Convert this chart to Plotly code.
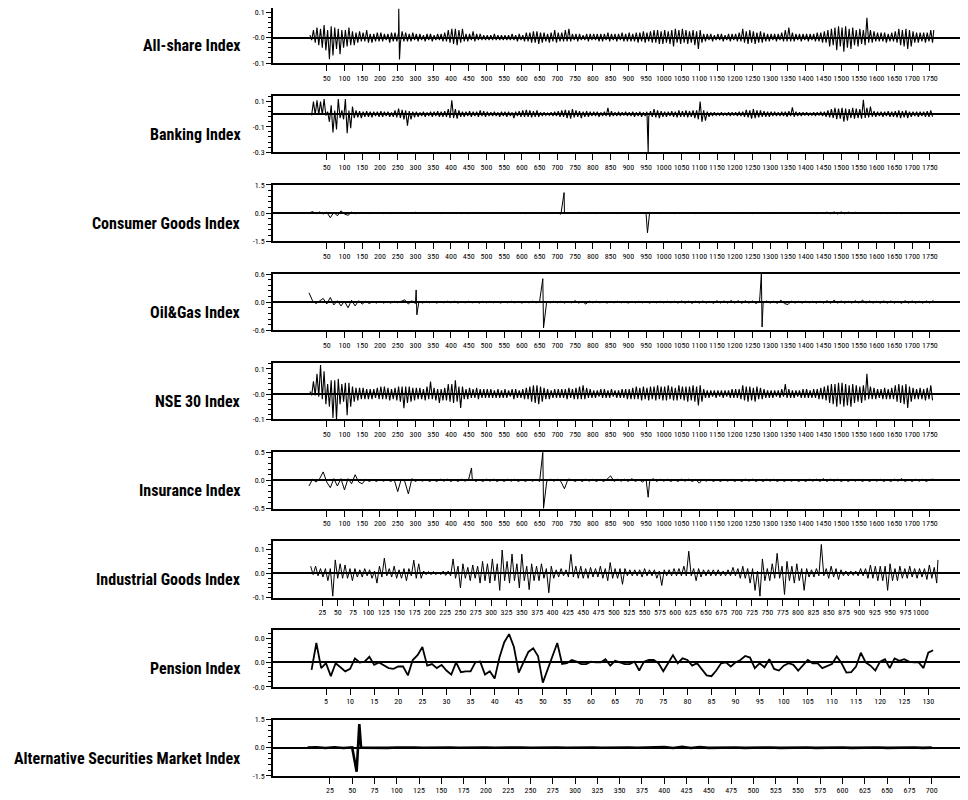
import plotly.graph_objects as go

# ---------------- data ----------------
# Dense return series: for every window of WIN_LONG observations the highest and
# lowest value read off the picture (the band of the series), plus isolated spikes.
WIN_LONG = 10

ALLSHARE_HIGH = [
    0.01, 0.03, 0.04, 0.035, 0.05, 0.03, 0.045, 0.04, 0.035, 0.03,
    0.03, 0.04, 0.025, 0.02, 0.025, 0.02, 0.03, 0.015, 0.015, 0.02,
    0.02, 0.015, 0.015, 0.02, 0.02, 0.02, 0.025, 0.02, 0.015, 0.02,
    0.015, 0.015, 0.01, 0.015, 0.015, 0.01, 0.015, 0.015, 0.02, 0.03,
    0.035, 0.035, 0.03, 0.035, 0.015, 0.015, 0.025, 0.015, 0.015, 0.01,
    0.01, 0.01, 0.015, 0.01, 0.01, 0.01, 0.01, 0.015, 0.01, 0.015,
    0.01, 0.02, 0.02, 0.025, 0.025, 0.02, 0.02, 0.015, 0.02, 0.03,
    0.02, 0.02, 0.03, 0.035, 0.015, 0.015, 0.015, 0.01, 0.015, 0.015,
    0.015, 0.015, 0.015, 0.015, 0.02, 0.015, 0.015, 0.015, 0.02, 0.015,
    0.02, 0.015, 0.02, 0.02, 0.025, 0.02, 0.025, 0.03, 0.03, 0.025,
    0.03, 0.025, 0.03, 0.035, 0.03, 0.035, 0.03, 0.025, 0.03, 0.025,
    0.03, 0.015, 0.015, 0.015, 0.01, 0.015, 0.015, 0.01, 0.015, 0.015,
    0.015, 0.02, 0.035, 0.025, 0.03, 0.025, 0.02, 0.025, 0.02, 0.015,
    0.015, 0.015, 0.015, 0.02, 0.03, 0.04, 0.02, 0.015, 0.015, 0.015,
    0.015, 0.015, 0.015, 0.02, 0.02, 0.025, 0.03, 0.035, 0.04, 0.045,
    0.04, 0.045, 0.035, 0.04, 0.03, 0.035, 0.03, 0.078, 0.03, 0.025,
    0.02, 0.02, 0.02, 0.015, 0.02, 0.025, 0.035, 0.03, 0.035, 0.03,
    0.025, 0.02, 0.02, 0.02, 0.02, 0.03,
]
ALLSHARE_LOW = [
    -0.01, -0.02, -0.03, -0.04, -0.05, -0.085, -0.07, -0.045, -0.065, -0.04,
    -0.035, -0.03, -0.03, -0.02, -0.015, -0.015, -0.02, -0.02, -0.015, -0.015,
    -0.015, -0.01, -0.02, -0.015, -0.015, -0.02, -0.015, -0.015, -0.015, -0.01,
    -0.015, -0.01, -0.015, -0.01, -0.015, -0.01, -0.01, -0.015, -0.015, -0.02,
    -0.025, -0.03, -0.02, -0.015, -0.015, -0.01, -0.015, -0.01, -0.01, -0.01,
    -0.01, -0.01, -0.01, -0.01, -0.01, -0.01, -0.01, -0.01, -0.015, -0.01,
    -0.015, -0.015, -0.02, -0.02, -0.025, -0.02, -0.015, -0.02, -0.015, -0.02,
    -0.015, -0.015, -0.015, -0.015, -0.01, -0.015, -0.01, -0.01, -0.015, -0.01,
    -0.01, -0.015, -0.015, -0.01, -0.015, -0.01, -0.015, -0.01, -0.015, -0.015,
    -0.015, -0.015, -0.02, -0.015, -0.02, -0.015, -0.02, -0.02, -0.025, -0.025,
    -0.02, -0.025, -0.035, -0.02, -0.025, -0.02, -0.025, -0.02, -0.03, -0.045,
    -0.02, -0.015, -0.01, -0.015, -0.01, -0.01, -0.015, -0.01, -0.015, -0.01,
    -0.015, -0.015, -0.02, -0.025, -0.02, -0.025, -0.02, -0.02, -0.015, -0.015,
    -0.01, -0.015, -0.01, -0.015, -0.015, -0.015, -0.015, -0.01, -0.015, -0.01,
    -0.015, -0.01, -0.015, -0.015, -0.02, -0.02, -0.035, -0.03, -0.05, -0.035,
    -0.055, -0.04, -0.045, -0.03, -0.035, -0.025, -0.03, -0.02, -0.02, -0.015,
    -0.015, -0.015, -0.02, -0.015, -0.015, -0.02, -0.03, -0.035, -0.045, -0.035,
    -0.02, -0.02, -0.015, -0.02, -0.015, -0.02,
]
ALLSHARE_PEAK_X = [253, 255, 1761]
ALLSHARE_PEAK_Y = [0.114, -0.086, 0.03]

BANKING_HIGH = [
    0.005, 0.10, 0.11, 0.10, 0.12, 0.02, 0.07, 0.03, 0.12, 0.03,
    0.12, 0.03, 0.06, 0.03, 0.025, 0.02, 0.025, 0.02, 0.02, 0.02,
    0.025, 0.02, 0.02, 0.015, 0.03, 0.045, 0.035, 0.03, 0.025, 0.02,
    0.02, 0.015, 0.02, 0.015, 0.02, 0.02, 0.025, 0.02, 0.025, 0.04,
    0.11, 0.04, 0.03, 0.02, 0.02, 0.025, 0.02, 0.02, 0.03, 0.025,
    0.02, 0.015, 0.02, 0.015, 0.02, 0.02, 0.02, 0.015, 0.02, 0.025,
    0.03, 0.035, 0.03, 0.025, 0.03, 0.015, 0.015, 0.01, 0.015, 0.02,
    0.025, 0.03, 0.035, 0.03, 0.04, 0.03, 0.025, 0.02, 0.025, 0.02,
    0.02, 0.02, 0.015, 0.02, 0.05, 0.025, 0.015, 0.02, 0.015, 0.02,
    0.015, 0.02, 0.015, 0.02, 0.015, 0.02, 0.025, 0.04, 0.03, 0.025,
    0.02, 0.02, 0.025, 0.02, 0.03, 0.025, 0.03, 0.025, 0.03, 0.03,
    0.1, 0.03, 0.02, 0.015, 0.015, 0.01, 0.015, 0.01, 0.015, 0.015,
    0.015, 0.02, 0.02, 0.035, 0.03, 0.04, 0.03, 0.03, 0.025, 0.02,
    0.02, 0.02, 0.015, 0.02, 0.02, 0.025, 0.055, 0.02, 0.015, 0.015,
    0.015, 0.01, 0.015, 0.015, 0.02, 0.02, 0.03, 0.04, 0.05, 0.045,
    0.05, 0.045, 0.04, 0.05, 0.045, 0.04, 0.115, 0.05, 0.06, 0.025,
    0.02, 0.02, 0.02, 0.025, 0.02, 0.025, 0.03, 0.025, 0.03, 0.02,
    0.02, 0.02, 0.02, 0.02, 0.025, 0.03,
]
BANKING_LOW = [
    -0.005, -0.005, -0.005, -0.005, -0.01, -0.06, -0.145, -0.12, -0.03, -0.04,
    -0.15, -0.11, -0.03, -0.025, -0.03, -0.02, -0.02, -0.025, -0.015, -0.02,
    -0.02, -0.015, -0.02, -0.02, -0.025, -0.03, -0.04, -0.09, -0.04, -0.025,
    -0.02, -0.015, -0.02, -0.015, -0.02, -0.015, -0.02, -0.02, -0.02, -0.03,
    -0.03, -0.035, -0.02, -0.02, -0.015, -0.02, -0.015, -0.02, -0.015, -0.02,
    -0.015, -0.015, -0.015, -0.02, -0.015, -0.02, -0.015, -0.03, -0.015, -0.02,
    -0.02, -0.02, -0.025, -0.02, -0.02, -0.015, -0.01, -0.01, -0.015, -0.015,
    -0.02, -0.02, -0.03, -0.035, -0.025, -0.02, -0.03, -0.02, -0.02, -0.015,
    -0.015, -0.02, -0.015, -0.015, -0.02, -0.015, -0.015, -0.015, -0.01, -0.015,
    -0.015, -0.02, -0.015, -0.02, -0.015, -0.02, -0.02, -0.025, -0.03, -0.02,
    -0.02, -0.015, -0.02, -0.025, -0.02, -0.02, -0.025, -0.02, -0.03, -0.04,
    -0.06, -0.05, -0.02, -0.015, -0.01, -0.01, -0.01, -0.01, -0.015, -0.01,
    -0.015, -0.015, -0.02, -0.025, -0.035, -0.03, -0.025, -0.02, -0.02, -0.02,
    -0.015, -0.015, -0.015, -0.015, -0.02, -0.015, -0.02, -0.015, -0.015, -0.01,
    -0.01, -0.01, -0.015, -0.01, -0.015, -0.02, -0.025, -0.03, -0.04, -0.035,
    -0.06, -0.05, -0.03, -0.035, -0.03, -0.035, -0.03, -0.025, -0.02, -0.02,
    -0.015, -0.02, -0.015, -0.02, -0.02, -0.025, -0.03, -0.025, -0.03, -0.02,
    -0.015, -0.02, -0.015, -0.02, -0.02, -0.02,
]
BANKING_PEAK_X = [956]
BANKING_PEAK_Y = [-0.3]

NSE30_HIGH = [
    0.01, 0.05, 0.08, 0.115, 0.09, 0.04, 0.055, 0.055, 0.06, 0.04,
    0.045, 0.045, 0.03, 0.025, 0.025, 0.025, 0.02, 0.02, 0.02, 0.025,
    0.03, 0.03, 0.025, 0.02, 0.025, 0.03, 0.03, 0.03, 0.03, 0.025,
    0.025, 0.025, 0.02, 0.03, 0.05, 0.025, 0.02, 0.02, 0.025, 0.04,
    0.04, 0.055, 0.03, 0.03, 0.02, 0.025, 0.02, 0.025, 0.02, 0.02,
    0.02, 0.02, 0.015, 0.02, 0.015, 0.02, 0.015, 0.02, 0.02, 0.015,
    0.02, 0.025, 0.03, 0.035, 0.035, 0.03, 0.025, 0.02, 0.015, 0.02,
    0.02, 0.02, 0.02, 0.025, 0.02, 0.025, 0.03, 0.035, 0.025, 0.02,
    0.015, 0.015, 0.02, 0.02, 0.015, 0.02, 0.015, 0.015, 0.02, 0.02,
    0.02, 0.025, 0.03, 0.025, 0.03, 0.025, 0.03, 0.03, 0.035, 0.03,
    0.03, 0.035, 0.03, 0.025, 0.035, 0.03, 0.03, 0.03, 0.035, 0.03,
    0.035, 0.02, 0.015, 0.015, 0.015, 0.015, 0.015, 0.015, 0.015, 0.02,
    0.02, 0.02, 0.035, 0.03, 0.03, 0.025, 0.03, 0.025, 0.02, 0.015,
    0.015, 0.015, 0.015, 0.02, 0.04, 0.02, 0.015, 0.015, 0.015, 0.02,
    0.02, 0.015, 0.02, 0.02, 0.025, 0.03, 0.035, 0.04, 0.04, 0.045,
    0.045, 0.04, 0.035, 0.04, 0.035, 0.03, 0.035, 0.08, 0.03, 0.025,
    0.02, 0.02, 0.025, 0.02, 0.025, 0.035, 0.04, 0.035, 0.04, 0.03,
    0.025, 0.02, 0.025, 0.02, 0.025, 0.035,
]
NSE30_LOW = [
    -0.005, -0.005, -0.01, -0.02, -0.04, -0.05, -0.094, -0.1, -0.04, -0.03,
    -0.083, -0.05, -0.03, -0.025, -0.02, -0.02, -0.02, -0.02, -0.015, -0.02,
    -0.02, -0.02, -0.025, -0.02, -0.025, -0.03, -0.056, -0.035, -0.03, -0.025,
    -0.02, -0.02, -0.025, -0.02, -0.02, -0.025, -0.035, -0.025, -0.025, -0.03,
    -0.035, -0.03, -0.055, -0.02, -0.02, -0.015, -0.015, -0.02, -0.015, -0.015,
    -0.015, -0.015, -0.015, -0.015, -0.015, -0.015, -0.01, -0.02, -0.015, -0.015,
    -0.02, -0.02, -0.03, -0.035, -0.04, -0.03, -0.02, -0.02, -0.015, -0.015,
    -0.015, -0.015, -0.02, -0.015, -0.02, -0.02, -0.02, -0.02, -0.015, -0.015,
    -0.015, -0.01, -0.015, -0.015, -0.015, -0.01, -0.015, -0.015, -0.015, -0.02,
    -0.02, -0.02, -0.02, -0.025, -0.02, -0.025, -0.02, -0.025, -0.02, -0.025,
    -0.025, -0.02, -0.025, -0.025, -0.02, -0.025, -0.03, -0.025, -0.03, -0.045,
    -0.03, -0.015, -0.015, -0.01, -0.015, -0.01, -0.015, -0.01, -0.015, -0.015,
    -0.015, -0.02, -0.025, -0.03, -0.025, -0.03, -0.02, -0.02, -0.015, -0.015,
    -0.015, -0.01, -0.015, -0.01, -0.015, -0.015, -0.015, -0.01, -0.015, -0.015,
    -0.015, -0.015, -0.015, -0.02, -0.02, -0.025, -0.035, -0.04, -0.05, -0.04,
    -0.05, -0.045, -0.05, -0.035, -0.03, -0.035, -0.025, -0.02, -0.02, -0.02,
    -0.015, -0.02, -0.02, -0.02, -0.02, -0.03, -0.035, -0.04, -0.055, -0.03,
    -0.02, -0.02, -0.02, -0.025, -0.02, -0.025,
]
NSE30_PEAK_X = []
NSE30_PEAK_Y = []

# Quieter long series: one reading every STEP_LONG observations, plus spikes.
STEP_LONG = 10

CONSUMER = [
    0.0, 0.08, -0.04, 0.06, -0.05, 0.05, -0.25, 0.04, -0.15, 0.12,
    -0.05, -0.12, 0.05, -0.04, 0.03, -0.03, 0.03, -0.03, 0.03, -0.02,
    0.03, -0.03, 0.02, -0.03, 0.03, -0.02, 0.03, -0.03, 0.02, -0.03,
    0.04, -0.03, 0.03, -0.02, 0.03, -0.03, 0.02, -0.03, 0.03, -0.02,
    0.03, -0.02, 0.03, -0.03, 0.02, -0.03, 0.03, -0.02, 0.03, -0.03,
    0.02, -0.03, 0.03, -0.02, 0.02, -0.03, 0.03, -0.02, 0.02, -0.02,
    0.03, -0.03, 0.02, -0.02, 0.03, -0.02, 0.02, -0.03, 0.03, -0.02,
    0.02, -0.06, 0.03, -0.02, 0.02, -0.03, 0.04, -0.02, 0.03, -0.03,
    0.02, -0.03, 0.03, -0.02, 0.03, -0.02, 0.02, -0.03, 0.03, -0.02,
    0.02, -0.03, 0.03, -0.02, 0.02, -0.03, 0.02, -0.02, 0.03, -0.03,
    0.02, -0.02, 0.03, -0.03, 0.02, -0.02, 0.03, -0.02, 0.02, -0.03,
    0.03, -0.02, 0.02, -0.03, 0.03, -0.02, 0.02, -0.03, 0.02, -0.02,
    0.03, -0.03, 0.02, -0.02, 0.03, -0.03, 0.02, -0.02, 0.03, -0.02,
    0.02, -0.03, 0.03, -0.02, 0.02, -0.02, 0.03, -0.03, 0.02, -0.02,
    0.03, -0.02, 0.02, -0.03, 0.03, -0.02, 0.05, -0.04, 0.06, -0.05,
    0.06, -0.04, 0.05, -0.03, 0.04, -0.03, 0.03, -0.02, 0.03, -0.02,
    0.03, -0.03, 0.02, -0.03, 0.03, -0.02, 0.03, -0.03, 0.02, -0.02,
    0.03, -0.02, 0.02, -0.03, 0.03, -0.02, 0.03,
]
CONSUMER_PEAK_X = [719, 954]
CONSUMER_PEAK_Y = [1.09, -1.05]

OILGAS = [
    0.2, 0.03, -0.03, 0.02, 0.08, -0.04, 0.1, -0.06, 0.03, -0.08,
    0.02, -0.12, 0.04, -0.08, 0.03, -0.04, 0.02, -0.03, 0.02, -0.02,
    0.02, -0.02, 0.015, -0.02, 0.02, -0.015, 0.02, 0.05, -0.04, 0.03,
    -0.03, 0.02, -0.02, 0.02, -0.015, 0.015, -0.02, 0.015, -0.015, 0.02,
    -0.015, 0.02, -0.02, 0.015, -0.015, 0.02, -0.015, 0.015, -0.02, 0.02,
    -0.015, 0.02, -0.015, 0.015, -0.02, 0.015, -0.015, 0.02, -0.015, 0.015,
    -0.02, 0.015, -0.015, 0.02, -0.015, 0.02, -0.02, 0.015, -0.015, 0.02,
    -0.015, 0.02, -0.02, 0.015, -0.015, 0.03, -0.02, 0.015, -0.04, 0.02,
    -0.015, 0.02, -0.015, 0.015, -0.02, 0.015, -0.015, 0.02, -0.015, 0.015,
    -0.02, 0.015, -0.015, 0.02, -0.015, 0.015, -0.02, 0.015, -0.015, 0.02,
    -0.015, 0.02, -0.015, 0.02, -0.02, 0.025, -0.02, 0.02, -0.025, 0.02,
    -0.02, 0.025, -0.02, 0.02, -0.025, 0.03, -0.02, 0.025, -0.02, 0.035,
    -0.02, 0.03, -0.025, 0.03, -0.02, 0.025, -0.03, 0.02, -0.02, 0.025,
    -0.02, 0.02, -0.025, 0.04, -0.03, -0.05, 0.025, -0.02, 0.02, -0.02,
    0.02, -0.015, 0.02, -0.02, 0.02, -0.02, 0.03, -0.025, 0.04, -0.02,
    0.025, -0.02, 0.02, -0.02, 0.03, -0.02, 0.04, -0.02, 0.025, -0.02,
    0.02, -0.02, 0.025, -0.02, 0.025, -0.02, 0.02, -0.025, 0.03, -0.02,
    0.025, -0.02, 0.02, -0.02, 0.025, -0.02, 0.04,
]
OILGAS_PEAK_X = [302, 304, 659, 661, 1275, 1277]
OILGAS_PEAK_Y = [0.26, -0.27, 0.5, -0.55, 0.6, -0.53]

INSURANCE = [
    -0.1, 0.02, -0.03, 0.03, 0.15, -0.03, -0.13, 0.03, -0.1, 0.03,
    -0.17, 0.03, -0.06, 0.1, -0.03, -0.06, 0.02, -0.02, 0.015, -0.02,
    0.02, -0.015, 0.02, -0.02, 0.015, -0.2, 0.02, -0.02, -0.24, 0.03,
    -0.02, 0.02, -0.015, 0.02, -0.02, 0.015, -0.02, 0.02, -0.015, 0.02,
    -0.02, 0.015, -0.02, 0.02, -0.015, 0.02, 0.03, -0.02, 0.015, -0.02,
    0.02, -0.015, 0.02, -0.02, 0.015, -0.02, 0.02, -0.015, 0.02, -0.02,
    0.015, -0.02, 0.02, -0.015, 0.02, -0.02, 0.015, -0.02, 0.02, -0.015,
    0.02, -0.02, -0.15, 0.02, 0.015, -0.02, 0.015, -0.02, 0.02, -0.015,
    0.02, -0.02, 0.015, -0.02, 0.02, 0.08, -0.02, 0.02, -0.015, 0.02,
    -0.02, 0.03, -0.02, 0.015, -0.03, 0.02, -0.02, 0.03, -0.02, 0.02,
    -0.015, 0.02, -0.02, 0.015, -0.02, 0.02, -0.015, 0.02, -0.02, 0.015,
    -0.05, 0.02, -0.015, 0.02, -0.02, 0.015, -0.02, 0.02, -0.015, 0.02,
    -0.02, 0.015, -0.02, 0.02, -0.015, 0.02, -0.02, 0.015, -0.02, 0.02,
    -0.015, 0.02, -0.02, 0.015, -0.02, 0.02, -0.015, 0.02, -0.02, 0.015,
    -0.02, 0.02, -0.015, 0.02, -0.02, 0.03, -0.02, 0.02, -0.015, 0.02,
    -0.02, 0.015, -0.02, 0.02, -0.015, 0.02, -0.02, 0.015, -0.02, 0.02,
    -0.015, 0.02, -0.02, 0.015, -0.02, 0.02, -0.015, 0.03, -0.02, 0.015,
    -0.02, 0.02, -0.015, 0.02, -0.02, 0.015, 0.02,
]
INSURANCE_PEAK_X = [458, 659, 661, 956]
INSURANCE_PEAK_Y = [0.22, 0.5, -0.5, -0.3]

WIN_INDUSTRIAL = 8
INDUSTRIAL_START = 4
INDUSTRIAL_HIGH = [
    0.03, 0.03, 0.02, 0.02, 0.02, 0.056, 0.04, 0.035, 0.02, 0.02,
    0.015, 0.02, 0.015, 0.01, 0.03, 0.063, 0.02, 0.03, 0.015, 0.02,
    0.02, 0.055, 0.04, 0.01, 0.008, 0.008, 0.006, 0.01, 0.01, 0.06,
    0.03, 0.04, 0.025, 0.035, 0.03, 0.05, 0.04, 0.06, 0.04, 0.097,
    0.05, 0.08, 0.04, 0.08, 0.03, 0.04, 0.03, 0.04, 0.02, 0.03,
    0.015, 0.02, 0.015, 0.079, 0.03, 0.03, 0.02, 0.025, 0.02, 0.03,
    0.02, 0.045, 0.02, 0.02, 0.02, 0.015, 0.015, 0.015, 0.02, 0.015,
    0.015, 0.01, 0.015, 0.015, 0.02, 0.02, 0.03, 0.092, 0.02, 0.02,
    0.015, 0.015, 0.015, 0.015, 0.01, 0.015, 0.025, 0.02, 0.03, 0.02,
    0.02, 0.01, 0.06, 0.02, 0.04, 0.083, 0.03, 0.05, 0.03, 0.04,
    0.02, 0.02, 0.015, 0.02, 0.12, 0.02, 0.03, 0.02, 0.015, 0.01,
    0.01, 0.01, 0.02, 0.02, 0.035, 0.03, 0.03, 0.03, 0.04, 0.02,
    0.03, 0.02, 0.03, 0.02, 0.02, 0.02, 0.035, 0.025,
]
INDUSTRIAL_LOW = [
    -0.005, -0.01, -0.015, -0.03, -0.094, -0.02, -0.02, -0.02, -0.03, -0.015,
    -0.015, -0.01, -0.02, -0.04, -0.015, -0.01, -0.015, -0.02, -0.02, -0.03,
    -0.01, -0.02, -0.02, -0.005, -0.005, -0.005, -0.005, -0.008, -0.01, -0.02,
    -0.06, -0.02, -0.03, -0.02, -0.04, -0.03, -0.04, -0.03, -0.07, -0.03,
    -0.04, -0.03, -0.06, -0.03, -0.067, -0.03, -0.03, -0.02, -0.08, -0.02,
    -0.015, -0.01, -0.015, -0.015, -0.02, -0.02, -0.02, -0.015, -0.015, -0.02,
    -0.03, -0.02, -0.02, -0.045, -0.01, -0.01, -0.01, -0.015, -0.01, -0.01,
    -0.02, -0.05, -0.01, -0.01, -0.01, -0.01, -0.01, -0.01, -0.03, -0.015,
    -0.01, -0.01, -0.01, -0.01, -0.01, -0.01, -0.01, -0.02, -0.02, -0.04,
    -0.07, -0.094, -0.03, -0.03, -0.02, -0.02, -0.087, -0.03, -0.04, -0.03,
    -0.07, -0.015, -0.015, -0.01, -0.01, -0.02, -0.015, -0.025, -0.01, -0.01,
    -0.008, -0.01, -0.01, -0.02, -0.02, -0.03, -0.03, -0.07, -0.03, -0.03,
    -0.02, -0.02, -0.015, -0.02, -0.015, -0.025, -0.02, -0.04,
]
INDUSTRIAL_PEAK_X = [1028]
INDUSTRIAL_PEAK_Y = [0.056]

PENSION_START = 2
PENSION = [
    -0.0092, 0.024, -0.007, -0.001, -0.017, -0.001, -0.006, -0.011, -0.008, 0.005,
    0.0, 0.001, 0.007, -0.003, 0.0, -0.004, -0.007, -0.008, -0.005, -0.005,
    -0.016, 0.003, 0.009, 0.019, -0.004, -0.002, -0.007, -0.003, -0.010, -0.015,
    0.0, -0.012, -0.011, -0.011, 0.0, 0.001, -0.015, -0.011, -0.020, 0.006,
    0.025, 0.035, 0.019, -0.0125, 0.001, 0.013, 0.0175, 0.008, -0.025, -0.008,
    0.009, 0.024, -0.002, -0.001, 0.003, 0.001, -0.002, -0.002, 0.001, 0.0,
    0.0, 0.004, -0.004, 0.002, 0.0, -0.002, -0.002, 0.001, -0.010, 0.001,
    0.003, 0.003, -0.001, -0.011, -0.001, 0.009, -0.001, 0.005, 0.003, -0.004,
    -0.001, -0.008, -0.016, -0.017, -0.010, -0.001, 0.0, -0.005, 0.0, 0.003,
    0.008, 0.006, -0.007, -0.001, -0.006, 0.004, -0.008, -0.010, -0.004, -0.001,
    -0.003, -0.010, -0.003, 0.003, -0.001, -0.001, -0.007, -0.004, -0.002, 0.0075,
    -0.001, -0.0125, -0.012, -0.005, 0.012, 0.0, -0.004, -0.010, 0.001, 0.004,
    -0.007, 0.005, 0.002, 0.004, 0.001, 0.0, 0.0, -0.007, 0.012, 0.015,
]

STEP_ASM = 10
ASM = [
    0.0, 0.02, -0.02, 0.02, -0.015, 0.01, 0.0, -0.01, 0.01, -0.01,
    0.01, -0.01, 0.005, -0.005, 0.01, -0.01, 0.005, -0.005, 0.01, -0.01,
    0.005, -0.005, 0.01, -0.01, 0.005, -0.005, 0.01, -0.01, 0.005, -0.005,
    0.01, -0.01, 0.005, -0.005, 0.01, -0.01, 0.005, -0.005, 0.01, -0.01,
    0.03, -0.02, 0.04, -0.02, 0.03, -0.01, 0.005, -0.005, 0.01, -0.01,
    0.005, -0.005, 0.01, -0.01, 0.005, -0.005, 0.01, -0.01, 0.005, -0.005,
    0.01, -0.01, 0.005, -0.005, 0.01, -0.01, 0.005, -0.005, 0.01, -0.01,
    0.0,
]
ASM_PEAK_X = [55, 58]
ASM_PEAK_Y = [-1.28, 1.25]

LABELS = [
    "All-share Index", "Banking Index", "Consumer Goods Index", "Oil&Gas Index",
    "NSE 30 Index", "Insurance Index", "Industrial Goods Index", "Pension Index",
    "Alternative Securities Market Index",
]

XTICKS_LONG = list(range(50, 1751, 50))
XTICKS_INDUSTRIAL = list(range(25, 1001, 25))
XTICKS_PENSION = list(range(5, 131, 5))
XTICKS_ASM = list(range(25, 701, 25))

YTICK_TEXT = [
    ["0.1", "-0.0", "-0.1"],
    ["0.1", "-0.1", "-0.3"],
    ["1.5", "0.0", "-1.5"],
    ["0.6", "0.0", "-0.6"],
    ["0.1", "-0.0", "-0.1"],
    ["0.5", "0.0", "-0.5"],
    ["0.1", "0.0", "-0.1"],
    ["0.0", "0.0", "-0.0"],
    ["1.5", "0.0", "-1.5"],
]
YTICK_VALS = [
    [0.1, 0.0, -0.1],
    [0.1, -0.1, -0.3],
    [1.5, 0.0, -1.5],
    [0.6, 0.0, -0.6],
    [0.1, 0.0, -0.1],
    [0.5, 0.0, -0.5],
    [0.1, 0.0, -0.1],
    [0.03, 0.0, -0.03],
    [1.5, 0.0, -1.5],
]


def from_points(values, step, start=0, peak_x=(), peak_y=()):
    pts = [(start + i * step, v) for i, v in enumerate(values)]
    pts += list(zip(peak_x, peak_y))
    pts.sort(key=lambda p: p[0])
    return [p[0] for p in pts], [p[1] for p in pts]


def from_band(high, low, win, start=0, peak_x=(), peak_y=()):
    pts = []
    for i, (h, l) in enumerate(zip(high, low)):
        pts.append((start + i * win + win * 0.25, h))
        pts.append((start + i * win + win * 0.75, l))
    pts += list(zip(peak_x, peak_y))
    pts.sort(key=lambda p: p[0])
    return [p[0] for p in pts], [p[1] for p in pts]


series = [
    from_band(ALLSHARE_HIGH, ALLSHARE_LOW, WIN_LONG, 0, ALLSHARE_PEAK_X, ALLSHARE_PEAK_Y),
    from_band(BANKING_HIGH, BANKING_LOW, WIN_LONG, 0, BANKING_PEAK_X, BANKING_PEAK_Y),
    from_points(CONSUMER, STEP_LONG, 0, CONSUMER_PEAK_X, CONSUMER_PEAK_Y),
    from_points(OILGAS, STEP_LONG, 0, OILGAS_PEAK_X, OILGAS_PEAK_Y),
    from_band(NSE30_HIGH, NSE30_LOW, WIN_LONG, 0, NSE30_PEAK_X, NSE30_PEAK_Y),
    from_points(INSURANCE, STEP_LONG, 0, INSURANCE_PEAK_X, INSURANCE_PEAK_Y),
    from_band(INDUSTRIAL_HIGH, INDUSTRIAL_LOW, WIN_INDUSTRIAL, INDUSTRIAL_START,
              INDUSTRIAL_PEAK_X, INDUSTRIAL_PEAK_Y),
    from_points(PENSION, 1, PENSION_START),
    from_points(ASM, STEP_ASM, 0, ASM_PEAK_X, ASM_PEAK_Y),
]

# ---------------- layout / styling ----------------
W, H = 968, 800
OFF = 8                       # page body margin: screen px = figure px + 8
TOP0, PITCH, BOX_H = 6.7, 89.1, 56.3   # screen px
BOX_LEFT = 273                # screen px
LABEL_RIGHT = 243             # screen px
TICK_FONT = dict(family="Roboto Condensed, Liberation Sans, Arial, sans-serif",
                 size=8, color="black")
LABEL_FONT = dict(family="Roboto Condensed, Liberation Sans, Arial, sans-serif",
                  size=16, color="black", weight="bold")

x_ranges = [[-101.5, 1880]] * 6 + [[-55.4, 1090], [-6.0, 139.9], [-38.8, 749.7]]
x_ticks = [XTICKS_LONG] * 6 + [XTICKS_INDUSTRIAL, XTICKS_PENSION, XTICKS_ASM]
y_ranges = [[-0.1, 0.117], [-0.3, 0.146], [-1.5, 1.5], [-0.6, 0.6], [-0.1, 0.1225],
            [-0.5, 0.5], [-0.1, 0.133], [-0.03, 0.0396], [-1.5, 1.5]]
y_minor = [0.02, 0.04, 0.3, 0.12, 0.02, 0.1, 0.02, 0.006, 0.3]
y_minor0 = [0, 0.1, 0, 0, 0, 0, 0, 0, 0]
line_w = [1.1, 1.1, 1, 1, 1.1, 1, 1, 1.8, 2.6]

fig = go.Figure()
layout = {}
annotations = []
for k in range(9):
    n = "" if k == 0 else str(k + 1)
    xs, ys = series[k]
    fig.add_trace(go.Scatter(
        x=xs, y=ys, mode="lines",
        line=dict(color="black", width=line_w[k]),
        xaxis="x" + n, yaxis="y" + n, hoverinfo="skip"))
    top = TOP0 + k * PITCH - OFF
    bot = top + BOX_H
    layout["xaxis" + n] = dict(
        domain=[(BOX_LEFT - OFF) / W, 1.0], range=x_ranges[k], anchor="y" + n,
        showline=True, linecolor="black", linewidth=2, mirror=True,
        ticks="outside", ticklen=6, tickwidth=1, tickcolor="black",
        tickvals=x_ticks[k], ticktext=[str(v) for v in x_ticks[k]],
        tickangle=0, tickfont=TICK_FONT, automargin=False,
        ticklabeloverflow="allow",
        showgrid=False, zeroline=False, fixedrange=True,
    )
    layout["yaxis" + n] = dict(
        domain=[1 - bot / H, min(1.0, 1 - top / H)], range=y_ranges[k], anchor="x" + n,
        showline=True, linecolor="black", linewidth=1.5, mirror=False,
        ticks="outside", ticklen=5, tickwidth=1, tickcolor="black",
        tickvals=YTICK_VALS[k], ticktext=YTICK_TEXT[k],
        tickfont=TICK_FONT, automargin=False, ticklabeloverflow="allow",
        showgrid=False, zeroline=True, zerolinecolor="black", zerolinewidth=1.5,
        minor=dict(ticks="outside", ticklen=3, tickwidth=1, tickcolor="black",
                   dtick=y_minor[k], tick0=y_minor0[k], showgrid=False),
        fixedrange=True,
    )
    annotations.append(dict(
        text=LABELS[k], xref="paper", yref="paper",
        x=(LABEL_RIGHT - OFF) / W, y=1 - (TOP0 + k * PITCH + 38.5 - OFF) / H,
        xanchor="right", yanchor="middle", showarrow=False,
        font=LABEL_FONT,
    ))

fig.update_layout(**layout)
fig.update_layout(
    width=W, height=H, margin=dict(l=0, r=0, t=0, b=0, autoexpand=False),
    paper_bgcolor="white", plot_bgcolor="white",
    showlegend=False, annotations=annotations,
)

fig.write_html("out.html")
